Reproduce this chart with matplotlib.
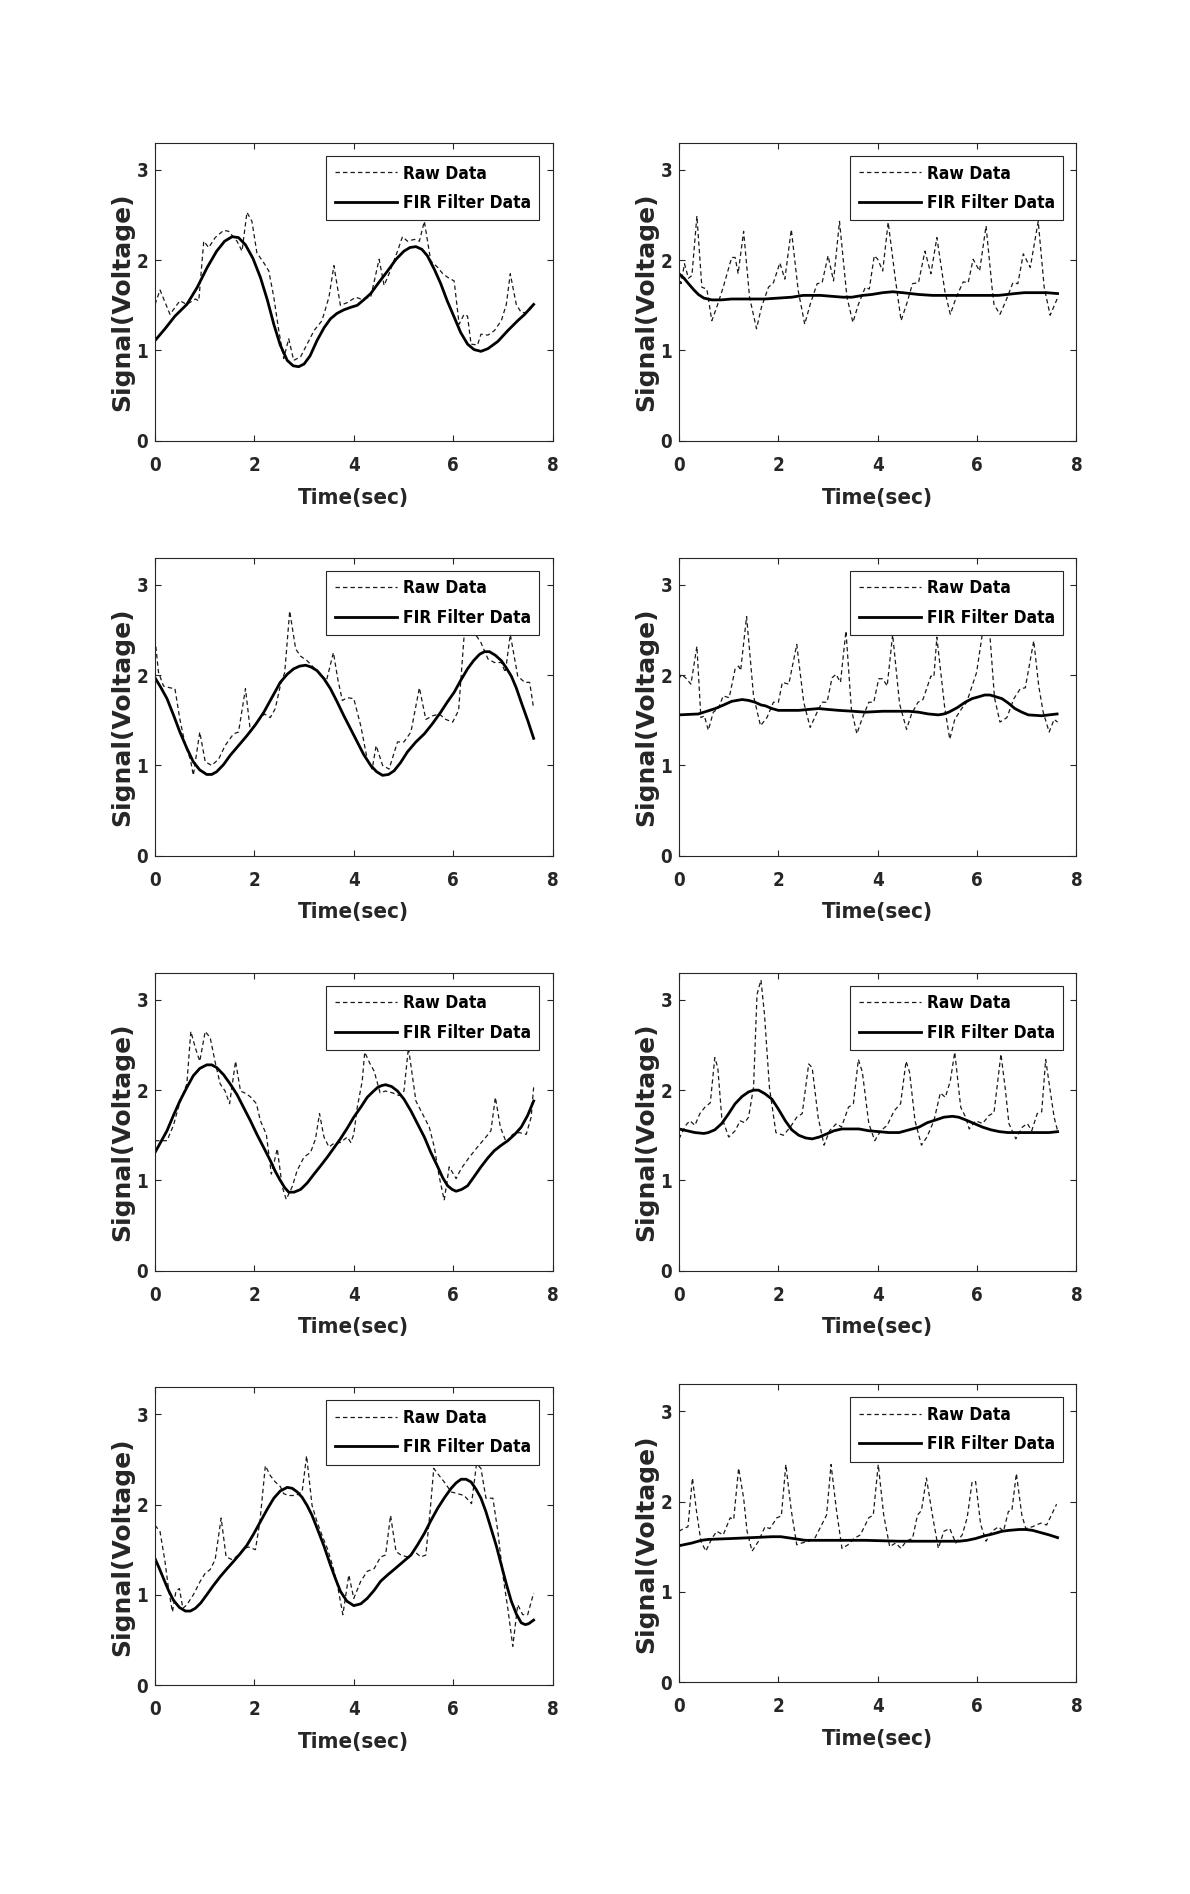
"""Raw vs FIR filtered signal, 4x2 grid of panels."""

import matplotlib
matplotlib.use("Agg")
import matplotlib.pyplot as plt

NARROW = dict(family="DejaVu Sans", stretch="condensed", weight="bold")
WIDE = dict(family="DejaVu Sans", weight="bold")
INK = "#262626"

# ---- panel 1 (row 1, left) ----
raw1_t = [0.00, 0.10, 0.30, 0.50, 0.64, 0.81, 0.88, 0.98, 1.08, 1.21, 1.38, 1.48, 1.65, 1.75, 1.85, 1.95,
          2.05, 2.19, 2.29, 2.39, 2.49, 2.59, 2.69, 2.79, 2.93, 3.06, 3.20, 3.36, 3.50, 3.60, 3.73, 3.87,
          4.04, 4.14, 4.34, 4.51, 4.61, 4.71, 4.88, 4.98, 5.08, 5.22, 5.32, 5.42, 5.55, 5.69, 5.79, 5.89,
          6.02, 6.12, 6.22, 6.29, 6.36, 6.49, 6.56, 6.70, 6.83, 6.97, 7.07, 7.15, 7.27, 7.37, 7.50, 7.62]
raw1_v = [1.51, 1.67, 1.40, 1.55, 1.51, 1.57, 1.55, 2.21, 2.14, 2.25, 2.33, 2.32, 2.21, 2.10, 2.53, 2.43,
          2.08, 1.97, 1.88, 1.59, 1.22, 0.91, 1.13, 0.89, 0.93, 1.07, 1.22, 1.33, 1.59, 1.94, 1.50, 1.53,
          1.59, 1.57, 1.59, 2.01, 1.72, 1.85, 2.10, 2.26, 2.21, 2.23, 2.21, 2.43, 1.99, 1.92, 1.85, 1.81,
          1.77, 1.29, 1.40, 1.38, 1.07, 1.06, 1.18, 1.17, 1.22, 1.33, 1.51, 1.85, 1.51, 1.42, 1.42, 1.51]
fir1_t = [0.00, 0.20, 0.40, 0.64, 0.85, 1.05, 1.24, 1.40, 1.55, 1.68, 1.82, 1.97, 2.12, 2.26, 2.39, 2.52,
          2.66, 2.78, 2.89, 3.00, 3.12, 3.26, 3.40, 3.53, 3.66, 3.80, 3.95, 4.07, 4.20, 4.34, 4.50, 4.68,
          4.85, 5.01, 5.13, 5.25, 5.37, 5.48, 5.62, 5.75, 5.88, 6.02, 6.15, 6.29, 6.42, 6.56, 6.70, 6.90,
          7.10, 7.30, 7.44, 7.62]
fir1_v = [1.11, 1.24, 1.38, 1.51, 1.70, 1.92, 2.10, 2.21, 2.26, 2.25, 2.17, 2.02, 1.81, 1.56, 1.29, 1.06,
          0.89, 0.83, 0.82, 0.85, 0.94, 1.11, 1.25, 1.35, 1.41, 1.45, 1.48, 1.50, 1.56, 1.63, 1.75, 1.88,
          2.01, 2.10, 2.14, 2.15, 2.12, 2.05, 1.90, 1.74, 1.55, 1.37, 1.20, 1.07, 1.01, 0.99, 1.02, 1.10,
          1.22, 1.33, 1.40, 1.51]

# ---- panel 2 (row 1, right) ----
raw2_t = [0.00, 0.04, 0.11, 0.19, 0.26, 0.36, 0.46, 0.56, 0.66, 0.76, 0.89, 1.06, 1.13, 1.19, 1.30, 1.42,
          1.56, 1.66, 1.80, 1.90, 2.03, 2.13, 2.26, 2.40, 2.53, 2.64, 2.78, 2.88, 3.00, 3.11, 3.23, 3.38,
          3.50, 3.61, 3.75, 3.83, 3.93, 4.00, 4.10, 4.21, 4.35, 4.47, 4.59, 4.70, 4.82, 4.95, 5.07, 5.19,
          5.35, 5.46, 5.58, 5.72, 5.82, 5.92, 6.05, 6.18, 6.30, 6.34, 6.46, 6.58, 6.72, 6.82, 6.93, 7.07,
          7.23, 7.35, 7.47, 7.61]
raw2_v = [1.85, 1.74, 1.96, 1.80, 1.83, 2.49, 1.70, 1.68, 1.33, 1.48, 1.70, 2.03, 2.03, 1.85, 2.32, 1.59,
          1.24, 1.48, 1.70, 1.75, 1.97, 1.79, 2.34, 1.66, 1.29, 1.51, 1.74, 1.75, 2.05, 1.77, 2.43, 1.59,
          1.31, 1.51, 1.70, 1.68, 2.05, 2.01, 1.88, 2.42, 1.81, 1.33, 1.53, 1.74, 1.75, 2.10, 1.85, 2.25,
          1.66, 1.40, 1.59, 1.76, 1.75, 2.01, 1.88, 2.38, 1.70, 1.51, 1.40, 1.55, 1.75, 1.74, 2.07, 1.92,
          2.43, 1.70, 1.39, 1.57]
fir2_t = [0.00, 0.10, 0.19, 0.30, 0.39, 0.50, 0.66, 0.85, 1.06, 1.40, 1.73, 2.00, 2.27, 2.50, 2.67, 2.85,
          3.07, 3.30, 3.48, 3.70, 3.88, 4.10, 4.30, 4.50, 4.82, 5.10, 5.42, 5.80, 6.10, 6.43, 6.60, 6.76,
          6.95, 7.20, 7.40, 7.62]
fir2_v = [1.85, 1.80, 1.74, 1.67, 1.62, 1.58, 1.56, 1.56, 1.57, 1.57, 1.57, 1.58, 1.59, 1.61, 1.61, 1.61,
          1.60, 1.59, 1.59, 1.61, 1.62, 1.64, 1.65, 1.64, 1.62, 1.61, 1.61, 1.61, 1.61, 1.61, 1.62, 1.63,
          1.64, 1.64, 1.64, 1.63]

# ---- panel 3 (row 2, left) ----
raw3_t = [0.00, 0.07, 0.17, 0.30, 0.40, 0.50, 0.61, 0.71, 0.77, 0.90, 1.01, 1.14, 1.28, 1.41, 1.58, 1.68,
          1.82, 1.92, 2.05, 2.20, 2.32, 2.42, 2.52, 2.61, 2.71, 2.83, 2.93, 3.06, 3.20, 3.30, 3.45, 3.59,
          3.68, 3.77, 3.87, 4.00, 4.14, 4.27, 4.37, 4.45, 4.58, 4.71, 4.88, 5.01, 5.15, 5.32, 5.45, 5.59,
          5.72, 5.85, 5.99, 6.11, 6.22, 6.35, 6.45, 6.56, 6.70, 6.83, 6.97, 7.05, 7.15, 7.30, 7.44, 7.54,
          7.62]
raw3_v = [2.40, 2.03, 1.88, 1.86, 1.85, 1.51, 1.22, 1.07, 0.89, 1.37, 1.04, 1.00, 1.07, 1.22, 1.35, 1.37,
          1.85, 1.37, 1.48, 1.57, 1.53, 1.63, 1.88, 2.03, 2.71, 2.29, 2.21, 2.16, 2.08, 2.03, 1.94, 2.25,
          1.95, 1.72, 1.75, 1.74, 1.44, 1.07, 0.96, 1.22, 1.00, 0.96, 1.26, 1.26, 1.37, 1.86, 1.51, 1.55,
          1.57, 1.51, 1.48, 1.61, 2.43, 2.55, 2.45, 2.36, 2.18, 2.14, 2.14, 2.03, 2.45, 1.99, 1.92, 1.92,
          1.63]
fir3_t = [0.00, 0.12, 0.24, 0.37, 0.50, 0.64, 0.77, 0.90, 1.04, 1.14, 1.24, 1.38, 1.51, 1.68, 1.85, 2.02,
          2.19, 2.35, 2.52, 2.66, 2.79, 2.91, 3.03, 3.14, 3.26, 3.40, 3.53, 3.66, 3.80, 3.94, 4.07, 4.20,
          4.34, 4.46, 4.58, 4.70, 4.81, 4.94, 5.08, 5.25, 5.42, 5.58, 5.75, 5.88, 6.02, 6.15, 6.29, 6.41,
          6.53, 6.63, 6.73, 6.85, 6.97, 7.07, 7.17, 7.27, 7.37, 7.50, 7.62]
fir3_v = [1.97, 1.86, 1.74, 1.56, 1.37, 1.19, 1.04, 0.95, 0.90, 0.90, 0.93, 1.01, 1.11, 1.22, 1.33, 1.45,
          1.59, 1.75, 1.92, 2.01, 2.07, 2.10, 2.11, 2.09, 2.05, 1.96, 1.85, 1.71, 1.55, 1.40, 1.26, 1.12,
          1.00, 0.93, 0.89, 0.90, 0.94, 1.03, 1.15, 1.26, 1.35, 1.46, 1.59, 1.70, 1.81, 1.94, 2.07, 2.16,
          2.23, 2.26, 2.26, 2.22, 2.16, 2.08, 1.99, 1.86, 1.70, 1.50, 1.30]

# ---- panel 4 (row 2, right) ----
raw4_t = [0.00, 0.05, 0.15, 0.24, 0.36, 0.44, 0.51, 0.59, 0.69, 0.79, 0.89, 1.01, 1.13, 1.20, 1.24, 1.36,
          1.50, 1.64, 1.77, 1.90, 2.00, 2.08, 2.21, 2.37, 2.51, 2.64, 2.78, 2.88, 2.98, 3.08, 3.16, 3.25,
          3.36, 3.47, 3.58, 3.68, 3.82, 3.92, 4.02, 4.10, 4.19, 4.30, 4.44, 4.58, 4.68, 4.81, 4.91, 5.07,
          5.13, 5.19, 5.35, 5.45, 5.55, 5.69, 5.79, 5.99, 6.13, 6.25, 6.35, 6.46, 6.60, 6.74, 6.87, 6.97,
          7.14, 7.24, 7.33, 7.45, 7.55, 7.62]
raw4_v = [1.96, 2.01, 1.96, 1.90, 2.32, 1.53, 1.55, 1.39, 1.59, 1.63, 1.77, 1.75, 2.07, 2.10, 2.05, 2.65,
          1.77, 1.44, 1.53, 1.70, 1.70, 1.92, 1.90, 2.34, 1.70, 1.42, 1.59, 1.70, 1.70, 1.97, 2.01, 1.92,
          2.49, 1.62, 1.35, 1.51, 1.70, 1.70, 1.96, 1.96, 1.88, 2.45, 1.68, 1.40, 1.57, 1.70, 1.73, 1.99,
          1.98, 2.42, 1.63, 1.29, 1.51, 1.63, 1.70, 2.03, 2.55, 2.50, 1.75, 1.48, 1.53, 1.74, 1.85, 1.86,
          2.38, 1.88, 1.59, 1.37, 1.51, 1.48]
fir4_t = [0.00, 0.39, 0.56, 0.73, 0.90, 1.06, 1.27, 1.40, 1.53, 1.65, 1.74, 1.87, 2.00, 2.20, 2.41, 2.60,
          2.81, 3.00, 3.21, 3.50, 3.75, 4.10, 4.42, 4.62, 4.82, 5.02, 5.22, 5.33, 5.43, 5.60, 5.76, 5.90,
          6.03, 6.15, 6.26, 6.38, 6.50, 6.63, 6.76, 6.90, 7.03, 7.30, 7.45, 7.61]
fir4_v = [1.56, 1.57, 1.60, 1.63, 1.67, 1.71, 1.73, 1.72, 1.70, 1.67, 1.66, 1.63, 1.61, 1.61, 1.61, 1.62,
          1.63, 1.62, 1.61, 1.60, 1.59, 1.60, 1.60, 1.60, 1.59, 1.57, 1.56, 1.57, 1.59, 1.64, 1.70, 1.74,
          1.76, 1.78, 1.78, 1.76, 1.74, 1.69, 1.63, 1.59, 1.56, 1.55, 1.56, 1.57]

# ---- panel 5 (row 3, left) ----
raw5_t = [0.00, 0.12, 0.24, 0.37, 0.47, 0.54, 0.64, 0.72, 0.81, 0.90, 1.01, 1.11, 1.21, 1.31, 1.41, 1.50,
          1.62, 1.72, 1.84, 1.93, 2.04, 2.12, 2.24, 2.34, 2.46, 2.56, 2.64, 2.76, 2.86, 3.00, 3.13, 3.23,
          3.31, 3.40, 3.50, 3.60, 3.73, 3.87, 3.94, 4.00, 4.07, 4.17, 4.22, 4.32, 4.41, 4.53, 4.64, 4.78,
          4.91, 5.01, 5.10, 5.25, 5.38, 5.52, 5.62, 5.72, 5.82, 5.92, 6.06, 6.16, 6.33, 6.49, 6.66, 6.76,
          6.85, 6.95, 7.07, 7.20, 7.33, 7.47, 7.57, 7.62]
raw5_v = [1.44, 1.44, 1.44, 1.61, 1.81, 1.92, 2.07, 2.65, 2.47, 2.32, 2.65, 2.58, 2.31, 2.07, 1.99, 1.85,
          2.32, 1.99, 1.96, 1.92, 1.85, 1.66, 1.51, 1.07, 1.35, 0.93, 0.79, 0.93, 1.11, 1.26, 1.31, 1.46,
          1.74, 1.48, 1.37, 1.41, 1.42, 1.48, 1.42, 1.51, 1.81, 2.10, 2.42, 2.30, 2.21, 1.97, 1.99, 1.97,
          1.94, 1.99, 2.47, 1.88, 1.74, 1.59, 1.37, 1.04, 0.78, 1.15, 1.02, 1.13, 1.26, 1.37, 1.48, 1.55,
          1.92, 1.59, 1.42, 1.51, 1.53, 1.51, 1.70, 2.03]
fir5_t = [0.00, 0.12, 0.24, 0.37, 0.50, 0.64, 0.77, 0.90, 1.04, 1.14, 1.24, 1.38, 1.51, 1.65, 1.78, 1.92,
          2.05, 2.19, 2.32, 2.42, 2.52, 2.61, 2.69, 2.80, 2.93, 3.06, 3.20, 3.33, 3.47, 3.60, 3.73, 3.87,
          4.00, 4.14, 4.27, 4.38, 4.48, 4.56, 4.64, 4.76, 4.88, 5.01, 5.15, 5.28, 5.42, 5.55, 5.69, 5.79,
          5.89, 5.98, 6.06, 6.17, 6.29, 6.42, 6.56, 6.70, 6.83, 6.97, 7.10, 7.24, 7.37, 7.50, 7.62]
fir5_v = [1.31, 1.43, 1.55, 1.72, 1.88, 2.03, 2.16, 2.24, 2.28, 2.28, 2.25, 2.17, 2.07, 1.95, 1.81, 1.66,
          1.51, 1.36, 1.22, 1.10, 1.00, 0.92, 0.87, 0.87, 0.90, 0.97, 1.07, 1.16, 1.26, 1.36, 1.46, 1.58,
          1.70, 1.81, 1.92, 1.98, 2.03, 2.05, 2.06, 2.04, 1.99, 1.90, 1.77, 1.63, 1.48, 1.31, 1.15, 1.03,
          0.94, 0.90, 0.88, 0.90, 0.94, 1.04, 1.15, 1.25, 1.33, 1.39, 1.44, 1.51, 1.59, 1.72, 1.88]

# ---- panel 6 (row 3, right) ----
raw6_t = [0.00, 0.08, 0.15, 0.22, 0.32, 0.42, 0.52, 0.63, 0.72, 0.78, 0.86, 1.00, 1.13, 1.23, 1.32, 1.40,
          1.50, 1.57, 1.65, 1.72, 1.82, 1.95, 2.10, 2.24, 2.37, 2.48, 2.61, 2.68, 2.80, 2.92, 3.03, 3.17,
          3.27, 3.41, 3.51, 3.61, 3.69, 3.82, 3.94, 4.06, 4.19, 4.33, 4.46, 4.57, 4.64, 4.75, 4.88, 4.99,
          5.13, 5.26, 5.36, 5.46, 5.55, 5.67, 5.77, 5.84, 5.97, 6.11, 6.24, 6.34, 6.48, 6.57, 6.64, 6.78,
          6.91, 7.01, 7.10, 7.21, 7.30, 7.38, 7.48, 7.55, 7.62]
raw6_v = [1.46, 1.55, 1.62, 1.66, 1.61, 1.74, 1.81, 1.86, 2.36, 2.25, 1.70, 1.48, 1.55, 1.66, 1.64, 1.70,
          2.03, 3.06, 3.22, 2.84, 2.03, 1.53, 1.50, 1.59, 1.70, 1.74, 2.29, 2.25, 1.70, 1.39, 1.55, 1.63,
          1.59, 1.81, 1.85, 2.34, 2.20, 1.63, 1.44, 1.55, 1.61, 1.77, 1.85, 2.32, 2.20, 1.66, 1.39, 1.48,
          1.66, 1.97, 1.92, 2.10, 2.42, 1.81, 1.70, 1.57, 1.66, 1.63, 1.72, 1.75, 2.40, 2.00, 1.63, 1.46,
          1.59, 1.63, 1.55, 1.74, 1.76, 2.34, 1.96, 1.70, 1.55]
fir6_t = [0.00, 0.32, 0.50, 0.59, 0.72, 0.86, 1.00, 1.13, 1.27, 1.40, 1.50, 1.60, 1.73, 1.87, 2.00, 2.14,
          2.27, 2.41, 2.55, 2.68, 2.82, 2.95, 3.12, 3.28, 3.45, 3.62, 3.82, 4.02, 4.22, 4.43, 4.63, 4.83,
          5.00, 5.17, 5.33, 5.50, 5.63, 5.77, 5.94, 6.11, 6.28, 6.45, 6.62, 6.78, 7.00, 7.25, 7.45, 7.62]
fir6_v = [1.57, 1.53, 1.52, 1.53, 1.56, 1.63, 1.74, 1.85, 1.93, 1.98, 2.00, 2.00, 1.96, 1.90, 1.79, 1.66,
          1.56, 1.50, 1.47, 1.46, 1.48, 1.51, 1.55, 1.57, 1.57, 1.57, 1.55, 1.54, 1.53, 1.53, 1.56, 1.59,
          1.64, 1.67, 1.70, 1.71, 1.70, 1.67, 1.63, 1.59, 1.56, 1.54, 1.53, 1.53, 1.53, 1.53, 1.53, 1.54]

# ---- panel 7 (row 4, left) ----
raw7_t = [0.00, 0.10, 0.20, 0.27, 0.35, 0.42, 0.49, 0.56, 0.64, 0.77, 0.91, 1.01, 1.11, 1.21, 1.33, 1.43,
          1.55, 1.68, 1.78, 1.88, 2.02, 2.11, 2.22, 2.32, 2.42, 2.52, 2.59, 2.69, 2.83, 2.96, 3.05, 3.16,
          3.26, 3.36, 3.47, 3.57, 3.67, 3.78, 3.90, 4.00, 4.14, 4.27, 4.41, 4.54, 4.64, 4.74, 4.85, 4.95,
          5.08, 5.22, 5.35, 5.45, 5.54, 5.61, 5.72, 5.82, 5.96, 6.09, 6.22, 6.37, 6.47, 6.56, 6.66, 6.80,
          6.90, 7.00, 7.10, 7.20, 7.30, 7.40, 7.50, 7.62]
raw7_v = [1.77, 1.70, 1.37, 1.07, 0.81, 1.04, 1.07, 0.85, 0.89, 1.00, 1.15, 1.24, 1.28, 1.39, 1.85, 1.42,
          1.39, 1.44, 1.51, 1.53, 1.50, 1.81, 2.43, 2.32, 2.25, 2.20, 2.12, 2.10, 2.10, 2.14, 2.54, 1.99,
          1.81, 1.66, 1.51, 1.33, 1.11, 0.78, 1.22, 0.96, 1.15, 1.26, 1.29, 1.42, 1.44, 1.88, 1.48, 1.44,
          1.42, 1.48, 1.42, 1.44, 1.95, 2.40, 2.32, 2.25, 2.14, 2.12, 2.10, 2.01, 2.45, 2.40, 2.07, 2.07,
          1.70, 1.22, 0.85, 0.43, 0.89, 0.78, 0.78, 1.02]
fir7_t = [0.00, 0.08, 0.17, 0.27, 0.37, 0.49, 0.61, 0.71, 0.81, 0.92, 1.04, 1.17, 1.31, 1.45, 1.58, 1.72,
          1.85, 1.98, 2.12, 2.26, 2.39, 2.52, 2.66, 2.76, 2.86, 2.96, 3.06, 3.16, 3.26, 3.40, 3.53, 3.63,
          3.73, 3.86, 4.00, 4.14, 4.27, 4.41, 4.54, 4.68, 4.81, 4.98, 5.15, 5.28, 5.42, 5.55, 5.69, 5.83,
          5.96, 6.06, 6.16, 6.26, 6.36, 6.46, 6.56, 6.66, 6.76, 6.87, 6.97, 7.07, 7.17, 7.27, 7.37, 7.45,
          7.52, 7.62]
fir7_v = [1.40, 1.30, 1.18, 1.05, 0.94, 0.86, 0.82, 0.82, 0.85, 0.91, 1.00, 1.10, 1.20, 1.29, 1.37, 1.46,
          1.55, 1.67, 1.81, 1.95, 2.07, 2.15, 2.19, 2.18, 2.14, 2.08, 1.99, 1.88, 1.74, 1.54, 1.33, 1.18,
          1.04, 0.93, 0.88, 0.90, 0.96, 1.05, 1.15, 1.22, 1.28, 1.36, 1.44, 1.55, 1.68, 1.82, 1.96, 2.08,
          2.18, 2.24, 2.28, 2.28, 2.25, 2.17, 2.07, 1.92, 1.74, 1.54, 1.33, 1.12, 0.93, 0.79, 0.69, 0.67,
          0.68, 0.72]

# ---- panel 8 (row 4, right) ----
raw8_t = [0.00, 0.09, 0.18, 0.27, 0.35, 0.44, 0.54, 0.66, 0.76, 0.89, 1.03, 1.10, 1.20, 1.30, 1.37, 1.47,
          1.60, 1.73, 1.83, 1.97, 2.06, 2.15, 2.26, 2.37, 2.47, 2.61, 2.74, 2.87, 2.97, 3.06, 3.17, 3.28,
          3.40, 3.52, 3.65, 3.82, 3.91, 4.01, 4.12, 4.24, 4.36, 4.47, 4.57, 4.70, 4.80, 4.88, 4.98, 5.10,
          5.22, 5.33, 5.45, 5.57, 5.70, 5.80, 5.90, 5.97, 6.07, 6.18, 6.30, 6.43, 6.53, 6.63, 6.70, 6.79,
          6.90, 6.98, 7.11, 7.28, 7.40, 7.60]
raw8_v = [1.67, 1.70, 1.72, 2.26, 1.90, 1.56, 1.45, 1.59, 1.67, 1.63, 1.82, 1.80, 2.37, 2.04, 1.67, 1.45,
          1.56, 1.72, 1.70, 1.82, 1.84, 2.41, 1.90, 1.52, 1.54, 1.56, 1.60, 1.74, 1.85, 2.41, 1.90, 1.48,
          1.52, 1.59, 1.63, 1.82, 1.85, 2.41, 1.85, 1.50, 1.54, 1.48, 1.56, 1.59, 1.85, 1.90, 2.26, 1.85,
          1.48, 1.67, 1.70, 1.54, 1.63, 1.82, 2.22, 2.22, 1.75, 1.56, 1.67, 1.72, 1.67, 1.89, 1.90, 2.31,
          1.85, 1.70, 1.72, 1.76, 1.74, 1.97]
fir8_t = [0.00, 0.26, 0.45, 0.59, 1.06, 1.47, 1.87, 2.05, 2.30, 2.54, 3.08, 3.75, 4.43, 5.10, 5.64, 5.80,
          5.97, 6.15, 6.31, 6.50, 6.64, 6.85, 6.98, 7.12, 7.25, 7.45, 7.62]
fir8_v = [1.51, 1.54, 1.57, 1.58, 1.59, 1.60, 1.61, 1.61, 1.59, 1.57, 1.57, 1.57, 1.56, 1.56, 1.56, 1.57,
          1.59, 1.62, 1.64, 1.67, 1.68, 1.69, 1.69, 1.68, 1.66, 1.63, 1.60]

panels = [
    (raw1_t, raw1_v, fir1_t, fir1_v), (raw2_t, raw2_v, fir2_t, fir2_v),
    (raw3_t, raw3_v, fir3_t, fir3_v), (raw4_t, raw4_v, fir4_t, fir4_v),
    (raw5_t, raw5_v, fir5_t, fir5_v), (raw6_t, raw6_v, fir6_t, fir6_v),
    (raw7_t, raw7_v, fir7_t, fir7_v), (raw8_t, raw8_v, fir8_t, fir8_v),
]

x_ticks = [0, 2, 4, 6, 8]
y_ticks = [0, 1, 2, 3]

# axes rectangles in figure fractions (left, bottom, width, height)
col_left = [0.1303, 0.5706]
row_bottom = [[0.7673, 0.7673], [0.5482, 0.5482], [0.3291, 0.3291], [0.1103, 0.1119]]
ax_w, ax_h = 0.3340, 0.1573


def draw_panel(ax, raw_t, raw_v, fir_t, fir_v):
    ax.plot(raw_t, raw_v, color="#1a1a1a", lw=0.9, linestyle=(0, (3.5, 2.5)), label="Raw Data")
    ax.plot(fir_t, fir_v, color="black", lw=2.0, label="FIR Filter Data")

    ax.set_xlim(0, 8)
    ax.set_ylim(0, 3.3)
    ax.set_xticks(x_ticks)
    ax.set_yticks(y_ticks)
    ax.tick_params(direction="in", top=True, right=True, length=4, width=0.8, colors=INK)
    ax.tick_params(axis="x", pad=11)
    ax.tick_params(axis="y", pad=5)
    for lab in ax.get_xticklabels() + ax.get_yticklabels():
        lab.set_fontproperties(NARROW)
        lab.set_fontsize(13.5)
    for spine in ax.spines.values():
        spine.set_color(INK)
        spine.set_linewidth(0.8)

    ax.set_xlabel("Time(sec)", fontsize=16, color=INK, labelpad=9, **NARROW)
    ax.set_ylabel("Signal(Voltage)", fontsize=18, color=INK, **WIDE)
    ax.yaxis.set_label_coords(-0.053, 0.465)

    leg = ax.legend(loc="upper right", prop=dict(NARROW, size=12.5),
                    handlelength=3.6, handletextpad=0.3, borderpad=0.5, labelspacing=0.65,
                    borderaxespad=0.75, fancybox=False, framealpha=1)
    leg.get_frame().set_edgecolor(INK)
    leg.get_frame().set_linewidth(0.8)


def main():
    fig = plt.figure(figsize=(11.9, 18.94), dpi=100)
    for i, (raw_t, raw_v, fir_t, fir_v) in enumerate(panels):
        row, col = divmod(i, 2)
        ax = fig.add_axes([col_left[col], row_bottom[row][col], ax_w, ax_h])
        draw_panel(ax, raw_t, raw_v, fir_t, fir_v)
    fig.savefig("out.png", dpi=100)
    plt.close(fig)


if __name__ == "__main__":
    main()
